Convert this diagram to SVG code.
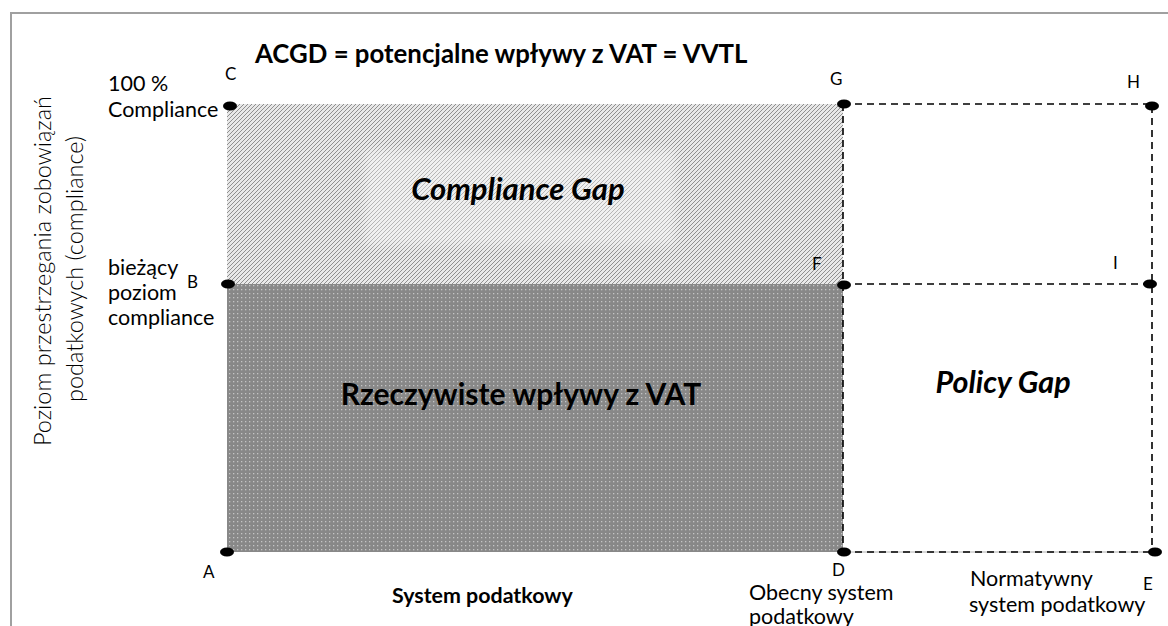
<svg xmlns="http://www.w3.org/2000/svg" width="1168" height="626" viewBox="0 0 1168 626">
<style>
text{font-family:Lato,"Open Sans","Liberation Sans",sans-serif;fill:#000}
.lbl{font-size:21.5px}
.pt{font-size:17px}
.b{font-weight:bold}
.bi{font-weight:bold;font-style:italic}
.ax{font-size:23.5px;font-weight:300}
.dash{stroke:#000;stroke-width:1.6;stroke-dasharray:7,5;fill:none}
.dot{fill:#000}
.frame{stroke:#a0a0a0;stroke-width:2;fill:none}
</style>
<defs>
<pattern id="dots" width="4" height="4" patternUnits="userSpaceOnUse">
<rect width="4" height="4" fill="#888"/>
<rect x="1" y="1" width="1.3" height="1.3" fill="#c4c4c4"/>
</pattern>
<pattern id="hatch" width="4" height="4" patternUnits="userSpaceOnUse">
<rect width="4" height="4" fill="#e8e8e8"/>
<path d="M-1,1 l2,-2 M0,4 l4,-4 M3,5 l2,-2" stroke="#8f8f8f" stroke-width="1"/>
</pattern>
<filter id="soft" x="-20%" y="-40%" width="140%" height="180%"><feGaussianBlur stdDeviation="5"/></filter>
</defs>
<path class="frame" d="M11,626 V13 H1168"/>
<g id="title"><text class="b" x="255" y="63" style="font-size:25.8px">ACGD = potencjalne wpływy z VAT = VVTL</text></g>
<g id="axis-y"><text class="ax" transform="translate(51,271) rotate(-90)" text-anchor="middle">Poziom przestrzegania zobowiązań</text>
<text class="ax" transform="translate(83,269) rotate(-90)" text-anchor="middle">podatkowych (compliance)</text></g>
<g id="compliance-gap"><rect x="227" y="104" width="616" height="180" fill="url(#hatch)"/>
<rect x="365" y="150" width="310" height="95" fill="#fff" opacity="0.35" filter="url(#soft)"/>
<text class="bi" x="518" y="200" text-anchor="middle" style="font-size:31px">Compliance Gap</text></g>
<g id="actual-vat"><rect x="227" y="284" width="616" height="268" fill="url(#dots)"/>
<text class="b" x="521" y="405" text-anchor="middle" style="font-size:30px">Rzeczywiste wpływy z VAT</text></g>
<g id="connectors">
<line x1="843" y1="552" x2="1154" y2="552" stroke="#b0b0b0" stroke-width="1"/>
<path class="dash" d="M843,104 H1152 M843,284 H1150 M843,552 H1154 M843,104 V552 M1152,106 V552"/>
</g>
<g id="policy-gap"><text class="bi" x="1003" y="393" text-anchor="middle" style="font-size:30.5px">Policy Gap</text></g>
<g id="point-C"><ellipse class="dot" cx="230" cy="106" rx="7" ry="4.5"/><text class="pt" x="225" y="80">C</text>
<text class="lbl" x="108" y="91">100 %</text><text class="lbl" x="108" y="117">Compliance</text></g>
<g id="point-B"><ellipse class="dot" cx="228" cy="284" rx="7" ry="4.5"/><text class="pt" x="187" y="288">B</text>
<text class="lbl" x="108" y="275">bieżący</text><text class="lbl" x="108" y="300">poziom</text><text class="lbl" x="108" y="325">compliance</text></g>
<g id="point-A"><ellipse class="dot" cx="227" cy="552" rx="7" ry="4.5"/><text class="pt" x="203" y="578">A</text></g>
<g id="point-G"><ellipse class="dot" cx="844" cy="104" rx="7" ry="4.5"/><text class="pt" x="830" y="85">G</text></g>
<g id="point-H"><ellipse class="dot" cx="1152" cy="106" rx="7" ry="4.5"/><text class="pt" x="1127" y="88">H</text></g>
<g id="point-F"><ellipse class="dot" cx="844" cy="285" rx="7" ry="4.5"/><text class="pt" x="812" y="270">F</text></g>
<g id="point-I"><ellipse class="dot" cx="1150" cy="284" rx="7" ry="4.5"/><text class="pt" x="1113" y="269">I</text></g>
<g id="point-D"><ellipse class="dot" cx="844" cy="552" rx="7" ry="4.5"/><text class="pt" x="832" y="576">D</text>
<text class="lbl" x="749" y="600">Obecny system</text><text class="lbl" x="749" y="624">podatkowy</text></g>
<g id="point-E"><ellipse class="dot" cx="1155" cy="552" rx="7" ry="4.5"/><text class="pt" x="1143" y="590">E</text>
<text class="lbl" x="970" y="586">Normatywny</text><text class="lbl" x="969" y="612">system podatkowy</text></g>
<g id="axis-x"><text class="b" x="392" y="603" style="font-size:21.4px">System podatkowy</text></g>
</svg>
